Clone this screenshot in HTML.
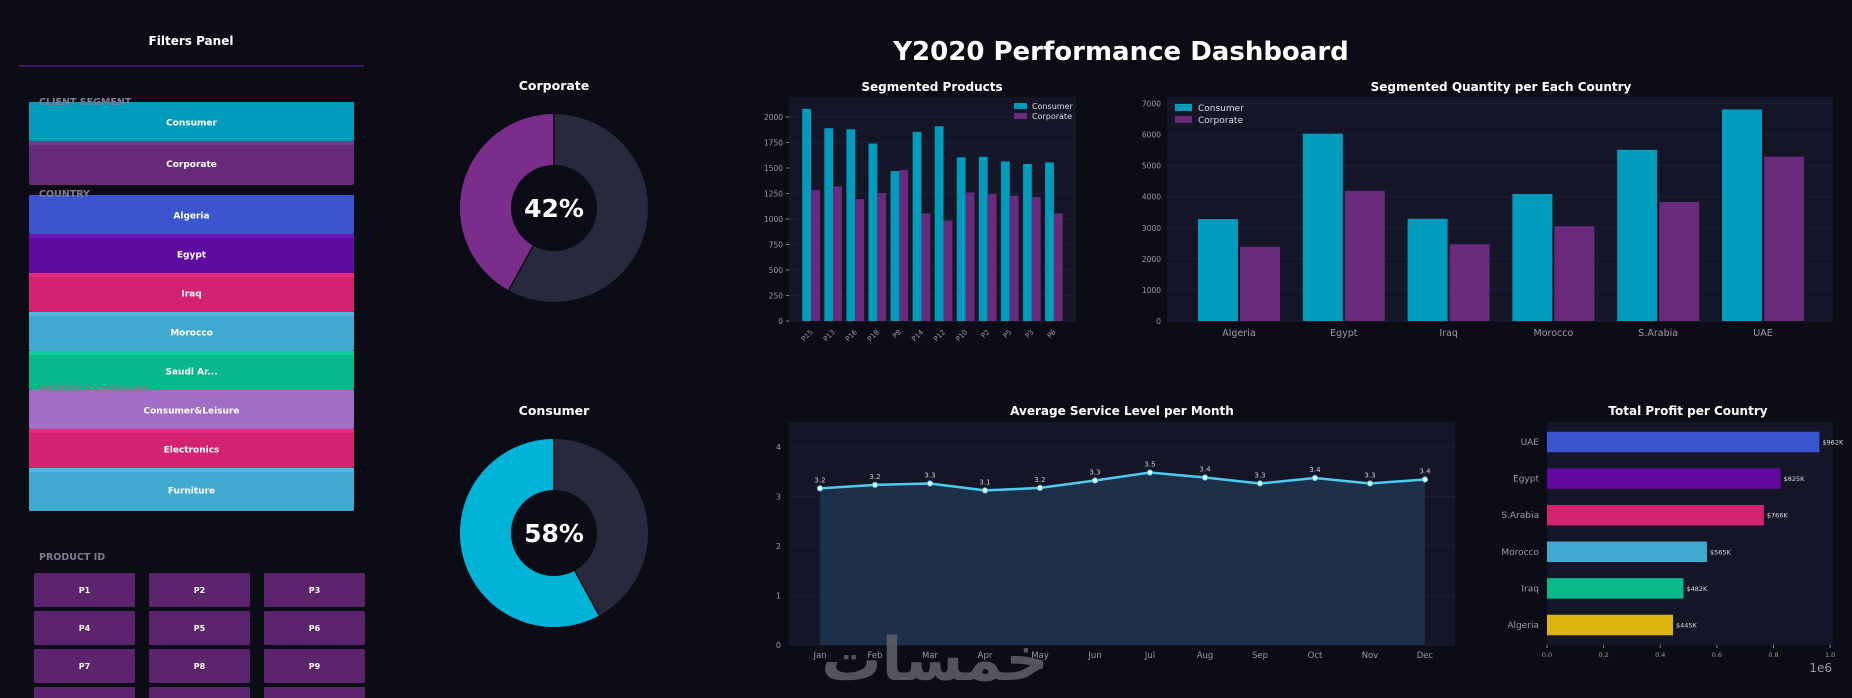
<!DOCTYPE html>
<html><head><meta charset="utf-8"><style>
html,body{margin:0;padding:0;background:#0c0c17;}
svg{display:block;font-family:"DejaVu Sans","Liberation Sans",sans-serif;}
</style></head><body>
<svg id="s" width="1852" height="698" viewBox="0 0 1852 698" xmlns="http://www.w3.org/2000/svg">
<rect width="1852" height="698" fill="#0c0c17"/>
<text x="1121" y="60" text-anchor="middle" fill="#fff" font-size="26" font-weight="bold">Y2020 Performance Dashboard</text>
<text x="191" y="45" text-anchor="middle" fill="#fff" font-size="12" font-weight="bold">Filters Panel</text>
<line x1="19" y1="66" x2="364" y2="66" stroke="#4a1f7a" stroke-width="1.5"/>
<g id="filters"></g>
<g id="donuts"></g>
<g id="prod"></g>
<g id="qty"></g>
<g id="svc"></g>
<g id="prof"></g>
<text x="935" y="680" text-anchor="middle" fill="#5c5c66" font-size="60" font-weight="bold" font-family="DejaVu Sans, sans-serif" opacity="0.9">خمسات</text>
</svg>
<script>
const prodCats=["P15","P13","P16","P18","P8","P14","P12","P10","P2","P5","P3","P6"];
const prodConsumer=[2080,1890,1880,1740,1470,1855,1910,1605,1610,1565,1540,1555];
const prodCorporate=[1285,1320,1195,1255,1480,1055,985,1260,1245,1230,1215,1055];
const prodTicks=[0,250,500,750,1000,1250,1500,1750,2000];
const qtyCats=["Algeria","Egypt","Iraq","Morocco","S.Arabia","UAE"];
const qtyConsumer=[3280,6030,3290,4090,5510,6810];
const qtyCorporate=[2390,4190,2470,3050,3830,5290];
const qtyTicks=[0,1000,2000,3000,4000,5000,6000,7000];
const months=["Jan","Feb","Mar","Apr","May","Jun","Jul","Aug","Sep","Oct","Nov","Dec"];
const svcValues=[3.16,3.23,3.26,3.12,3.17,3.32,3.48,3.38,3.26,3.37,3.26,3.34];
const svcLabels=["3.2","3.2","3.3","3.1","3.2","3.3","3.5","3.4","3.3","3.4","3.3","3.4"];
const svcTicks=[0,1,2,3,4];
const profCountries=["UAE","Egypt","S.Arabia","Morocco","Iraq","Algeria"];
const profValues=[962000,825000,766000,565000,482000,445000];
const profColors=["#3a55cf","#620aa0","#d5246f","#41aad0","#0ab98a","#dab60f"];
const profTicks=[0,0.2,0.4,0.6,0.8,1.0];
const donutTitles=["Corporate","Consumer"];
const donutShares=[42,58];

const NS="http://www.w3.org/2000/svg";
function mk(p,t,a,txt){const e=document.createElementNS(NS,t);for(const k in a)e.setAttribute(k,a[k]);if(txt!==undefined)e.textContent=txt;p.appendChild(e);return e;}

const F=document.getElementById('filters');
function label(x,y,t,n){const e=mk(F,'text',{x:x,y:y,fill:'#7e7e8e','font-size':9.5,'font-weight':'bold'},t);

}
function btn(y,h,c,top,t,n){const g=mk(F,'g',{});


mk(g,'rect',{x:29,y:y,width:325,height:h,rx:2,fill:c});mk(g,'rect',{x:29,y:y,width:325,height:4,fill:top});
mk(g,'text',{x:191.5,y:y+h/2+4,'text-anchor':'middle',fill:'#fff','font-size':9,'font-weight':'bold'},t);}
btn(102,39,'#019bbb','#019bbb','Consumer','consumer-filter');
btn(141,44,'#672a78','#713e8e','Corporate','corporate-filter');
btn(195,39,'#3b55cf','#3b55cf','Algeria','algeria-filter');
btn(234,39,'#5f0aa0','#6c12b8','Egypt','egypt-filter');
btn(273,39,'#d32370','#e12b7c','Iraq','iraq-filter');
btn(312,39,'#41aad0','#5ab4e0','Morocco','morocco-filter');
btn(351,39,'#08b78a','#0dcc9a','Saudi Ar...','saudi-filter');
btn(390,39,'#a26dc5','#a26dc5','Consumer&Leisure','consumer-leisure-filter');
btn(429,39,'#d32370','#e12b7c','Electronics','electronics-filter');
btn(468,43,'#41aad0','#5ab4e0','Furniture','furniture-filter');
label(39,105,'CLIENT SEGMENT','client-segment-label');
label(39,197,'COUNTRY','country-label');
label(39,392,'PRODUCT CATEGORY','product-category-label');
label(39,560,'PRODUCT ID','product-id-label');
for(let i=0;i<12;i++){const r=Math.floor(i/3),c=i%3;const x=34+c*115,y=573+r*38;
const g=mk(F,'g',{});


mk(g,'rect',{x:x,y:y,width:101,height:34,rx:1.5,fill:'#5c246c'});
if(i<9)mk(g,'text',{x:x+50.5,y:y+20,'text-anchor':'middle',fill:'#fff','font-size':8,'font-weight':'bold'},'P'+(i+1));}

const D=document.getElementById('donuts');
donutShares.forEach((p,i)=>{const cx=554,cy=i?533:208,R=94,r=43;
const col=i?'#00b4d8':'#7b2d8b';
mk(D,'text',{x:cx,y:cy-118,'text-anchor':'middle',fill:'#fff','font-size':12.5,'font-weight':'bold'},donutTitles[i]);
mk(D,'circle',{cx:cx,cy:cy,r:(R+r)/2,fill:'none',stroke:'#29293d','stroke-width':R-r});
const a=p/100*2*Math.PI;const rm=(R+r)/2;
const x2=cx-rm*Math.sin(a),y2=cy-rm*Math.cos(a);
const arc=mk(D,'path',{d:`M${cx},${cy-rm} A${rm},${rm} 0 ${p>50?1:0} 0 ${x2},${y2}`,fill:'none',stroke:col,'stroke-width':R-r});


mk(D,'line',{x1:cx,y1:cy-r,x2:cx,y2:cy-R,stroke:'#0c0c17','stroke-width':1.5});
mk(D,'line',{x1:cx-r*Math.sin(a),y1:cy-r*Math.cos(a),x2:cx-R*Math.sin(a),y2:cy-R*Math.cos(a),stroke:'#0c0c17','stroke-width':1.5});
mk(D,'circle',{cx:cx,cy:cy,r:r,fill:'#0c0c17'});
mk(D,'text',{x:cx,y:cy+9,'text-anchor':'middle',fill:'#fff','font-size':25,'font-weight':'bold'},p+'%');});

function axesBox(g,x0,y0,x1,y1){mk(g,'rect',{x:x0,y:y0,width:x1-x0,height:y1-y0,fill:'#151528'});}

(function(){const g=document.getElementById('prod');const L=789,Rr=1076,T=97,B=321,ymax=2196;
axesBox(g,L,T,Rr,B);
mk(g,'text',{x:932,y:91,'text-anchor':'middle',fill:'#fff','font-size':12,'font-weight':'bold'},'Segmented Products');
const y=v=>B-v/ymax*(B-T);const step=(Rr-L)/(prodCats.length+1);const x=i=>L+step*(i+1);const bw=step*0.4;
prodTicks.forEach(t=>{mk(g,'line',{x1:L,x2:Rr,y1:y(t),y2:y(t),stroke:'#1e1e34','stroke-width':1});mk(g,'line',{x1:L-3,x2:L,y1:y(t),y2:y(t),stroke:'#888'});
mk(g,'text',{x:L-6,y:y(t)+3,'text-anchor':'end',fill:'#9a9aa8','font-size':7.5},t);});
prodCats.forEach((c,i)=>{const b1=mk(g,'rect',{x:x(i)-bw,y:y(prodConsumer[i]),width:bw,height:B-y(prodConsumer[i]),fill:'#019bbb'});


const b2=mk(g,'rect',{x:x(i),y:y(prodCorporate[i]),width:bw,height:B-y(prodCorporate[i]),fill:'#692a7b'});


mk(g,'text',{x:x(i),y:B+10,'text-anchor':'end',fill:'#9a9aa8','font-size':7,transform:`rotate(-45 ${x(i)+3} ${B+8})`},c);});
mk(g,'rect',{x:1014,y:103,width:13,height:6,fill:'#019bbb'});mk(g,'text',{x:1032,y:109,fill:'#ddd','font-size':8},'Consumer');
mk(g,'rect',{x:1014,y:113,width:13,height:6,fill:'#692a7b'});mk(g,'text',{x:1032,y:119,fill:'#ddd','font-size':8},'Corporate');})();

(function(){const g=document.getElementById('qty');const L=1167,Rr=1833,T=97,B=321,ymax=7210;
axesBox(g,L,T,Rr,B);
mk(g,'text',{x:1501,y:91,'text-anchor':'middle',fill:'#fff','font-size':12,'font-weight':'bold'},'Segmented Quantity per Each Country');
const y=v=>B-v/ymax*(B-T);const x0=1239,st=104.8,bw=40;
qtyTicks.forEach(t=>{mk(g,'line',{x1:L,x2:Rr,y1:y(t),y2:y(t),stroke:'#1e1e34'});
mk(g,'text',{x:L-6,y:y(t)+3,'text-anchor':'end',fill:'#9a9aa8','font-size':7.5},t);});
qtyCats.forEach((c,i)=>{const cx=x0+st*i;
const b1=mk(g,'rect',{x:cx-bw-1,y:y(qtyConsumer[i]),width:bw,height:B-y(qtyConsumer[i]),fill:'#019bbb'});


const b2=mk(g,'rect',{x:cx+1,y:y(qtyCorporate[i]),width:bw,height:B-y(qtyCorporate[i]),fill:'#692a7b'});


mk(g,'text',{x:cx,y:B+15,'text-anchor':'middle',fill:'#9a9aa8','font-size':9.5},c);});
mk(g,'rect',{x:1175,y:104,width:17,height:7,fill:'#019bbb'});mk(g,'text',{x:1198,y:111,fill:'#ddd','font-size':9},'Consumer');
mk(g,'rect',{x:1175,y:116,width:17,height:7,fill:'#692a7b'});mk(g,'text',{x:1198,y:123,fill:'#ddd','font-size':9},'Corporate');})();

(function(){const g=document.getElementById('svc');const L=789,Rr=1455,T=422,B=645,ymax=4.5;
axesBox(g,L,T,Rr,B);
mk(g,'text',{x:1122,y:415,'text-anchor':'middle',fill:'#fff','font-size':12,'font-weight':'bold'},'Average Service Level per Month');
const y=v=>B-v/ymax*(B-T);const x=i=>820+i*(1425-820)/11;
svcTicks.forEach(t=>{mk(g,'line',{x1:L,x2:Rr,y1:y(t),y2:y(t),stroke:'#1e1e34'});
mk(g,'text',{x:L-8,y:y(t)+3,'text-anchor':'end',fill:'#9a9aa8','font-size':8},t);});
let d='';svcValues.forEach((v,i)=>d+=(i?'L':'M')+x(i)+','+y(v));
mk(g,'path',{d:d+`L${x(11)},${B}L${x(0)},${B}Z`,fill:'#1e3049'});
const ln=mk(g,'path',{d:d,fill:'none',stroke:'#4ccdee','stroke-width':2.5});


svcValues.forEach((v,i)=>{const p=mk(g,'circle',{cx:x(i),cy:y(v),r:2.6,fill:'#fff',stroke:'#4ccdee','stroke-width':1});


mk(g,'text',{x:x(i),y:y(v)-6,'text-anchor':'middle',fill:'#ccc','font-size':7},svcLabels[i]);
mk(g,'text',{x:x(i),y:B+13,'text-anchor':'middle',fill:'#9a9aa8','font-size':8.5},months[i]);});})();

(function(){const g=document.getElementById('prof');const L=1547,Rr=1833,T=422,B=645,xmax=1.01e6;
axesBox(g,L,T,Rr,B);
mk(g,'text',{x:1688,y:415,'text-anchor':'middle',fill:'#fff','font-size':12,'font-weight':'bold'},'Total Profit per Country');
const x=v=>L+v/xmax*(Rr-L);const yc=i=>442+i*36.6;const bh=20.5;
profTicks.forEach(t=>{mk(g,'line',{x1:x(t*1e6),x2:x(t*1e6),y1:B,y2:B+3,stroke:'#888'});
mk(g,'text',{x:x(t*1e6),y:B+12,'text-anchor':'middle',fill:'#9a9aa8','font-size':6.5},t.toFixed(1));});
mk(g,'text',{x:1832,y:672,'text-anchor':'end',fill:'#9a9aa8','font-size':12},'1e6');
profCountries.forEach((c,i)=>{const b=mk(g,'rect',{x:L,y:yc(i)-bh/2,width:x(profValues[i])-L,height:bh,fill:profColors[i]});


mk(g,'text',{x:L-8,y:yc(i)+3,'text-anchor':'end',fill:'#9a9aa8','font-size':9},c);
mk(g,'text',{x:x(profValues[i])+3,y:yc(i)+2.5,fill:'#ddd','font-size':6.5},'$'+Math.round(profValues[i]/1000)+'K');});})();
</script>
</body></html>
